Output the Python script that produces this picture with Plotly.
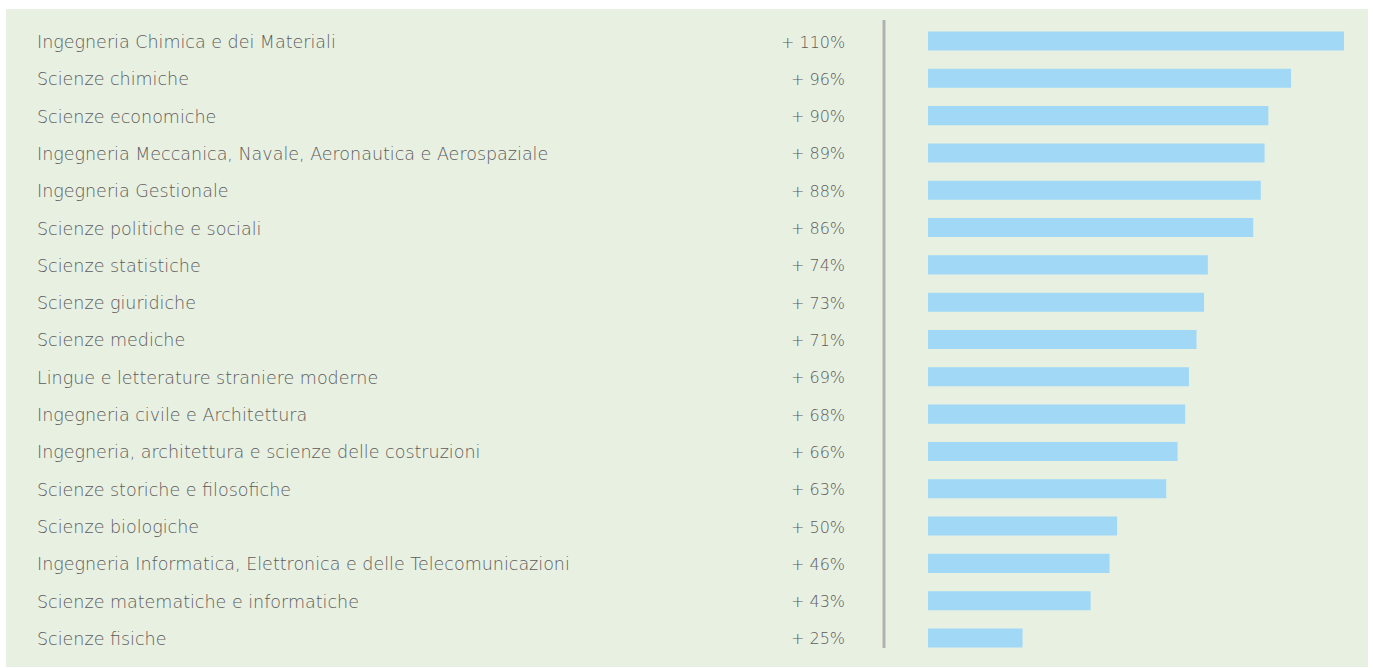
import plotly.graph_objects as go

categories = [
    "Ingegneria Chimica e dei Materiali",
    "Scienze chimiche",
    "Scienze economiche",
    "Ingegneria Meccanica, Navale, Aeronautica e Aerospaziale",
    "Ingegneria Gestionale",
    "Scienze politiche e sociali",
    "Scienze statistiche",
    "Scienze giuridiche",
    "Scienze mediche",
    "Lingue e letterature straniere moderne",
    "Ingegneria civile e Architettura",
    "Ingegneria, architettura e scienze delle costruzioni",
    "Scienze storiche e filosofiche",
    "Scienze biologiche",
    "Ingegneria Informatica, Elettronica e delle Telecomunicazioni",
    "Scienze matematiche e informatiche",
    "Scienze fisiche",
]
# percentages as printed next to each row
label_values = [110, 96, 90, 89, 88, 86, 74, 73, 71, 69, 68, 66, 63, 50, 46, 43, 25]
# bar lengths as drawn in the picture
bar_values = [110, 96, 90, 89, 88, 86, 74, 73, 71, 69, 68, 66, 63, 50, 48, 43, 25]
value_labels = ["+ %d%%" % v for v in label_values]

W, H = 1373, 668
TEXT = "#5c5c5c"
FONT = "DejaVu Sans"

fig = go.Figure()
fig.add_trace(go.Bar(
    x=bar_values, y=categories, orientation="h",
    marker=dict(color="#a1d8f6", line=dict(width=0)),
    width=0.51, hoverinfo="skip",
))

shapes = [
    dict(type="rect", xref="paper", yref="paper",
         x0=6 / W, x1=1368 / W, y0=1 - 667 / H, y1=1 - 9 / H,
         fillcolor="#e8f0e2", line=dict(width=0), layer="below"),
    dict(type="line", xref="paper", yref="paper",
         x0=884 / W, x1=884 / W, y0=1 - 648 / H, y1=1 - 20 / H,
         line=dict(color="#b1b1b1", width=3)),
]

annotations = []
for c, lab in zip(categories, value_labels):
    annotations.append(dict(
        x=35 / W, xref="paper", y=c, yref="y", text=c, showarrow=False,
        xanchor="left", yanchor="middle", yshift=-1,
        font=dict(family=FONT, size=17.5, color=TEXT, weight=300)))
    annotations.append(dict(
        x=847 / W, xref="paper", y=c, yref="y", text=lab, showarrow=False,
        xanchor="right", yanchor="middle", yshift=-1,
        font=dict(family=FONT, size=16, color=TEXT, weight=300)))

top = 41 - 37.3 / 2
bottom = 638 + 37.3 / 2

fig.update_layout(
    width=W, height=H,
    margin=dict(l=0, r=0, t=0, b=0),
    paper_bgcolor="white", plot_bgcolor="rgba(0,0,0,0)",
    showlegend=False,
    shapes=shapes, annotations=annotations,
    xaxis=dict(domain=[928 / W, 1344 / W], range=[0, 110],
               visible=False, fixedrange=True),
    yaxis=dict(domain=[1 - bottom / H, 1 - top / H],
               categoryorder="array", categoryarray=categories,
               autorange="reversed", visible=False, fixedrange=True),
    bargap=0.49,
)

fig.write_html("out.html", config=dict(displayModeBar=False))
